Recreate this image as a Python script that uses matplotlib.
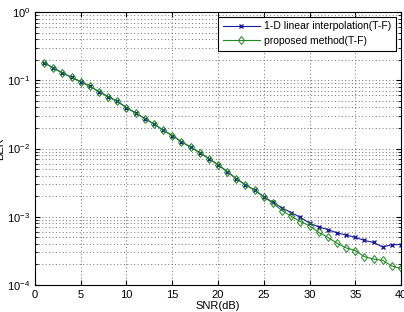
import numpy as np
import matplotlib
matplotlib.use('Agg')
import matplotlib.pyplot as plt

snr = list(range(1, 41))

ber_proposed = [0.182, 0.150, 0.129, 0.110, 0.0955, 0.0813, 0.0681, 0.0575, 0.0490, 0.0398,
                0.0331, 0.0275, 0.0229, 0.0186, 0.0155, 0.0126, 0.0105, 0.0087, 0.0071, 0.0058,
                0.0046, 0.0036, 0.00295, 0.00245, 0.00195, 0.00158, 0.00123, 0.00102, 8.5e-4, 7.4e-4,
                5.9e-4, 5.0e-4, 4.1e-4, 3.5e-4, 3.2e-4, 2.6e-4, 2.4e-4, 2.3e-4, 1.9e-4, 1.75e-4]

ber_linear = [0.182, 0.150, 0.129, 0.110, 0.0955, 0.0813, 0.0681, 0.0575, 0.0490, 0.0398,
              0.0331, 0.0275, 0.0229, 0.0186, 0.0155, 0.0126, 0.0105, 0.0087, 0.0071, 0.0058,
              0.0046, 0.0036, 0.00295, 0.00245, 0.00198, 0.00162, 0.00135, 0.00115, 9.8e-4, 8.1e-4,
              7.1e-4, 6.5e-4, 5.8e-4, 5.4e-4, 5.0e-4, 4.5e-4, 4.2e-4, 3.6e-4, 3.9e-4, 3.9e-4]

plt.rcParams['font.family'] = ['Liberation Sans', 'DejaVu Sans']
plt.rcParams['mathtext.fontset'] = 'custom'
plt.rcParams['mathtext.rm'] = 'Liberation Sans'

fig = plt.figure(figsize=(4.04, 3.12), dpi=100)
ax = fig.add_axes([0.0866, 0.0865, 0.906, 0.875])

ax.semilogy(snr, ber_linear, color='#1a1aa0', marker='x', markersize=3,
            linewidth=0.8, label='1-D linear interpolation(T-F)')
ax.semilogy(snr, ber_proposed, color='#1f8a1f', marker='d', markersize=4.5,
            markerfacecolor='none', markeredgewidth=0.7, linewidth=0.8,
            label='proposed method(T-F)')

ax.set_xlim(0, 40)
ax.set_ylim(1e-4, 1)
ax.set_xticks(range(0, 41, 5))
dots = (0, (1, 2.5))
ax.grid(True, which='major', linestyle=dots, color='#707070', linewidth=0.7)
ax.grid(True, which='minor', axis='y', linestyle=dots, color='#707070', linewidth=0.7)
ax.tick_params(labelsize=8, direction='in', which='both', top=True, right=True)
ax.set_xlabel('SNR(dB)', fontsize=8, labelpad=1)
ax.set_ylabel('BER', fontsize=8, labelpad=1)

leg = ax.legend(loc='upper right', fontsize=7.5, fancybox=False, framealpha=1,
                edgecolor='black', borderaxespad=0.45, handlelength=3.6,
                borderpad=0.45, labelspacing=0.45, handletextpad=0.4)
leg.get_frame().set_linewidth(0.8)

fig.savefig('out.png', dpi=100)
